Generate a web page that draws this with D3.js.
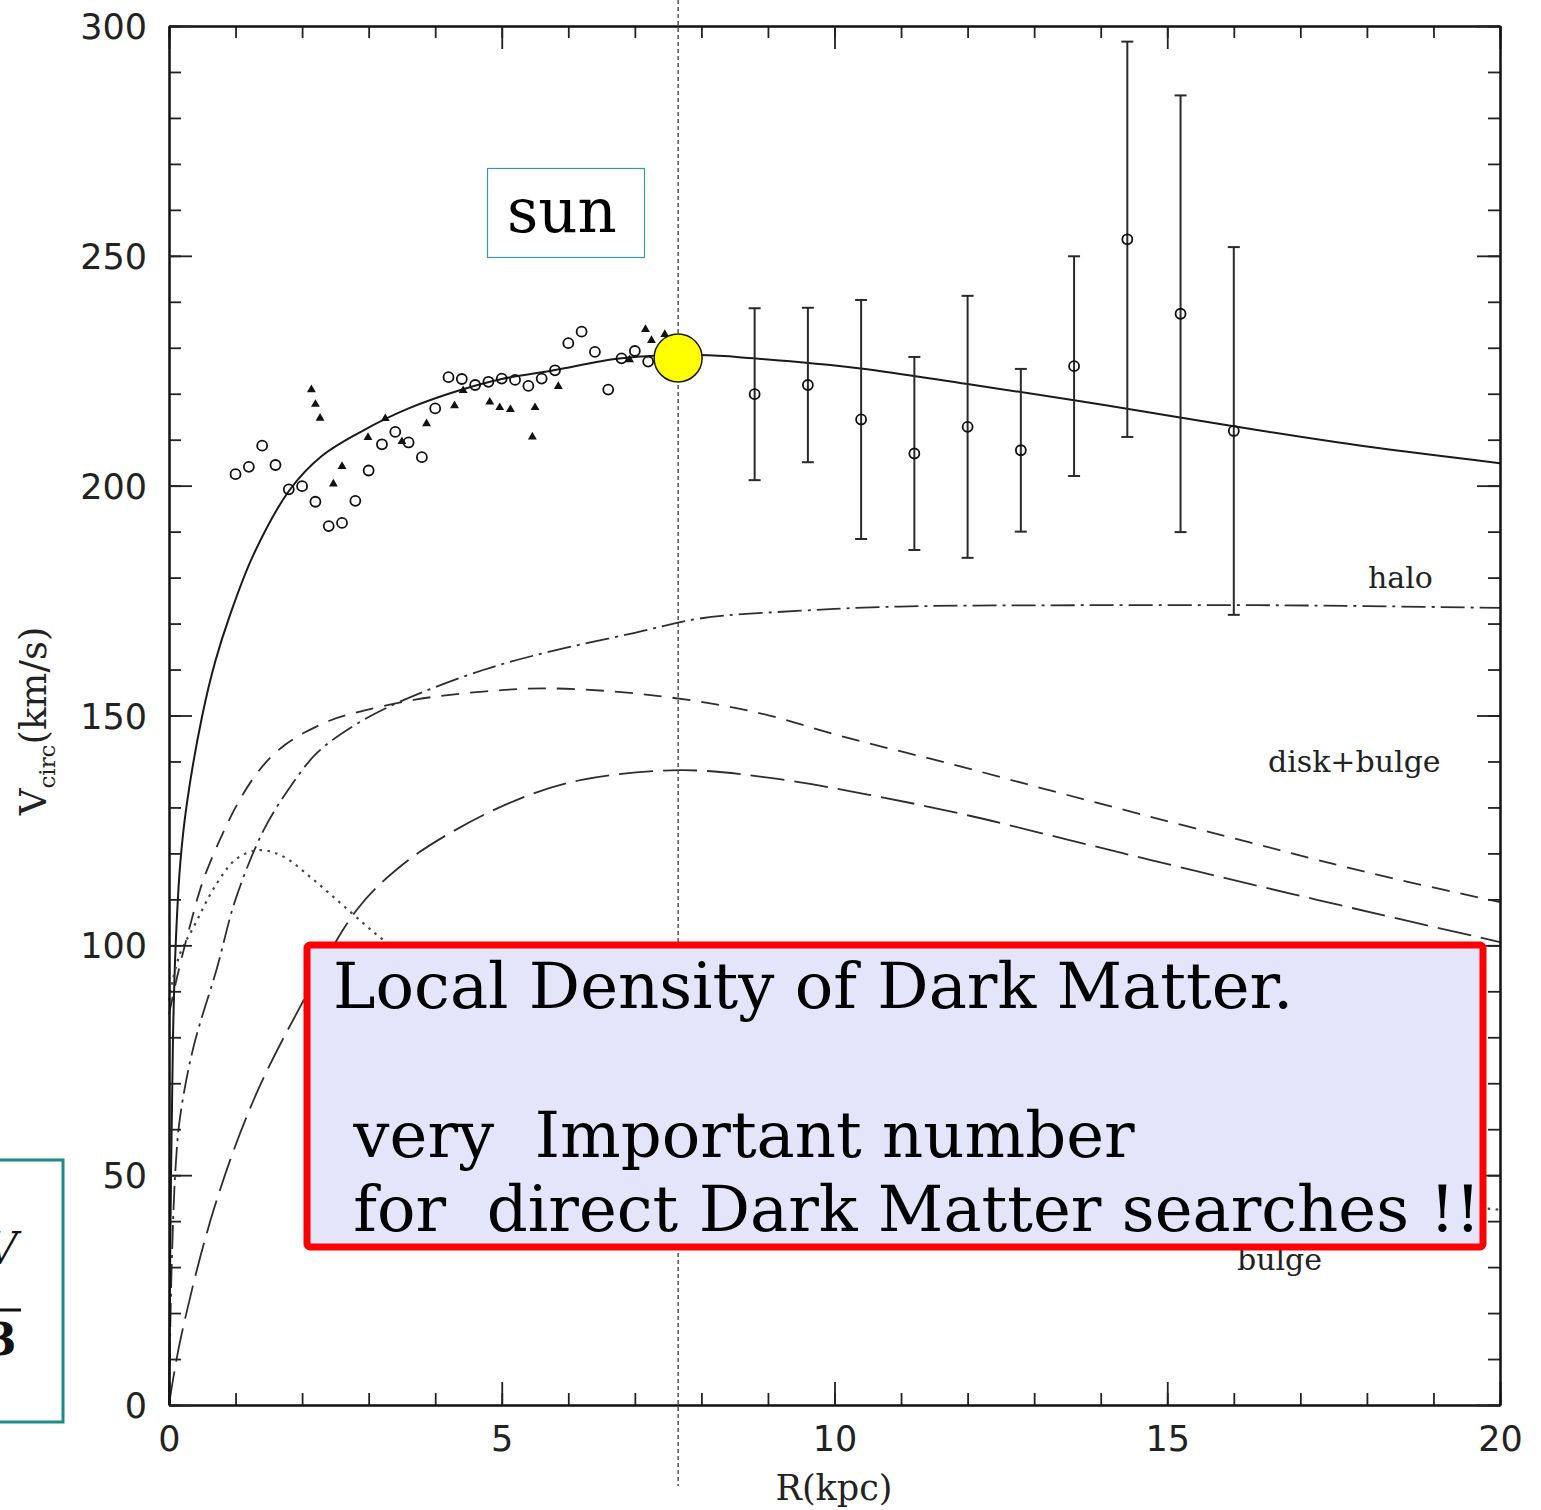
<!DOCTYPE html>
<html>
<head>
<meta charset="utf-8">
<script src="https://cdn.jsdelivr.net/npm/d3@7"></script>
<style>
  html, body { margin: 0; padding: 0; background: #ffffff; }
  svg { display: block; }
  text { white-space: pre; }
</style>
</head>
<body>
<svg id="chart" width="1541" height="1510"></svg>
<script>
// Milky Way rotation curve: model components and observed circular velocities

// Total model rotation curve (solid)
const totalR = [0, 0.03, 0.06, 0.1, 0.17, 0.27, 0.5, 0.7, 0.92, 1.27, 1.81, 2.3, 2.93, 3.6, 4.38, 5.0, 5.78, 6.8, 7.98, 8.78, 10.39, 12.0, 13.6, 15.17, 16.35, 18, 20];
const totalV = [0, 50, 80, 100, 118, 131, 150, 162, 172, 185, 199, 206.5, 212.1, 216.8, 220.8, 223.2, 225.1, 227.7, 228.4, 227.7, 225.5, 222.1, 218.6, 214.9, 212.1, 208.5, 204.9];

// Dark halo (dash-dot)
const haloR = [0, 0.04, 0.1, 0.17, 0.37, 0.72, 1.0, 1.42, 1.8, 2.22, 2.8, 3.47, 4.72, 5.72, 7.0, 7.98, 9.5, 10.98, 13.9, 16.35, 18, 20];
const haloV = [0, 30, 52, 63, 78, 95, 110, 125, 134, 141.8, 148, 153, 159.9, 163.9, 168, 171.1, 172.8, 173.7, 174, 174, 173.8, 173.4];

// Disk + bulge (short dash)
const diskBulgeR = [0, 0.12, 0.32, 0.51, 0.75, 1.0, 1.25, 1.5, 1.75, 2.0, 2.4, 2.72, 3.72, 4.72, 5.72, 7.2, 8.73, 10.23, 11.74, 13.24, 14.74, 16.24, 17.25, 18.5, 20];
const diskBulgeV = [85, 93, 104.5, 114, 122.5, 130, 136, 140.5, 143.7, 146, 148.8, 150.3, 153.5, 155.2, 155.9, 154.5, 151, 145, 139.5, 133.7, 128, 122.4, 118.6, 114.2, 109.4];

// Disk (long dash)
const diskR = [0, 0.17, 0.67, 1.27, 1.97, 2.82, 3.47, 4.22, 5.22, 6.2, 7.68, 9.0, 10.5, 12.0, 13.5, 14.74, 16, 17.25, 18.5, 20];
const diskV = [0, 14.1, 42.4, 66.3, 86.6, 107.7, 117.1, 124.4, 131.6, 136, 138.1, 136.5, 132.8, 128.3, 123, 118.6, 114.2, 109.9, 105.7, 100.7];

// Bulge (dotted)
const bulgeR = [0, 0.05, 0.17, 0.37, 0.72, 1.02, 1.37, 1.72, 2.12, 2.52, 2.92, 3.22, 4, 5, 6, 8, 10, 12, 14, 16, 18, 20];
const bulgeV = [88, 92, 98.3, 104, 113.5, 118.9, 120.7, 119.3, 114.9, 109.9, 104.8, 101.2, 94, 86, 79, 69, 62, 56.5, 52, 48.5, 45, 42.5];

// Inner-galaxy measurements: open circles
const circleR = [1.0, 1.2, 1.4, 1.6, 1.8, 2.0, 2.2, 2.4, 2.6, 2.8, 3.0, 3.2, 3.4, 3.6, 3.8, 4.0, 4.2, 4.4, 4.6, 4.8, 5.0, 5.2, 5.4, 5.6, 5.8, 6.0, 6.2, 6.4, 6.6, 6.8, 7.0, 7.2];
const circleV = [202.5, 204.1, 208.7, 204.5, 199.2, 199.9, 196.5, 191.2, 191.9, 196.7, 203.3, 209.0, 211.7, 209.4, 206.2, 216.8, 223.6, 223.2, 221.9, 222.6, 223.3, 223.0, 221.7, 223.3, 225.1, 231.0, 233.5, 229.1, 220.9, 227.7, 229.3, 227.0];

// Inner-galaxy measurements: filled triangles
const triR = [2.14, 2.20, 2.27, 2.47, 2.60, 2.99, 3.25, 3.50, 3.87, 4.29, 4.42, 4.82, 4.97, 5.13, 5.50, 5.46, 5.85, 6.92, 7.16, 7.25, 7.45];
const triV = [220.9, 217.7, 214.7, 200.4, 204.2, 210.5, 214.6, 209.6, 213.5, 217.4, 220.7, 218.2, 217.0, 216.6, 217.0, 210.6, 221.6, 227.4, 234.0, 231.6, 232.9];

// Outer-galaxy measurements with error bars
const outerR = [8.8, 9.6, 10.4, 11.2, 12.0, 12.8, 13.6, 14.4, 15.2, 16.0];
const outerV = [219.9, 221.9, 214.4, 207.0, 212.8, 207.7, 226.0, 253.6, 237.4, 211.9];
const outerErr = [18.7, 16.8, 26.0, 21.0, 28.5, 17.7, 23.9, 43.0, 47.5, 40.0];

// Sun position
const sunR = 7.65;
const sunV = 227.8;

// Axis ticks
const xMajorTicks = [0, 5, 10, 15, 20];
const xMinorTicks = [0, 1, 2, 3, 4, 5, 6, 7, 8, 9, 10, 11, 12, 13, 14, 15, 16, 17, 18, 19, 20];
const yMajorTicks = [0, 50, 100, 150, 200, 250, 300];
const yMinorTicks = [0, 10, 20, 30, 40, 50, 60, 70, 80, 90, 100, 110, 120, 130, 140, 150, 160, 170, 180, 190, 200, 210, 220, 230, 240, 250, 260, 270, 280, 290, 300];

// Annotation text
const noteLines = ["Local Density of Dark Matter.", "", " very  Important number", " for  direct Dark Matter searches !!"];

const svg = d3.select("#chart");
svg.append("rect").attr("width", 1541).attr("height", 1510).attr("fill", "#ffffff");

const plot = { left: 169, right: 1500, top: 26, bottom: 1405 };
const x = d3.scaleLinear().domain([0, 20]).range([plot.left, plot.right]);
const y = d3.scaleLinear().domain([0, 300]).range([plot.bottom, plot.top]);

const serif = "'DejaVu Serif', serif";
const sans = "'DejaVu Sans', sans-serif";

// Position of the Sun: dashed vertical marker (spans beyond the frame)
svg.append("line")
  .attr("x1", x(sunR)).attr("x2", x(sunR))
  .attr("y1", 0).attr("y2", 1486)
  .attr("stroke", "#000").attr("stroke-width", 1)
  .attr("stroke-dasharray", "4,3");

// Model curves
const curves = [
  { r: totalR, v: totalV, dash: null, width: 2, color: "#1a1a1a" },
  { r: haloR, v: haloV, dash: "24,6,3,6", width: 1.8, color: "#2e2e2e" },
  { r: diskBulgeR, v: diskBulgeV, dash: "18,11", width: 1.8, color: "#2e2e2e" },
  { r: diskR, v: diskV, dash: "34,10", width: 1.8, color: "#2e2e2e" },
  { r: bulgeR, v: bulgeV, dash: "2.5,5.5", width: 2.2, color: "#444" }
];
const lineGen = d3.line().x(d => x(d[0])).y(d => y(d[1])).curve(d3.curveCatmullRom.alpha(0.5));
curves.forEach(c => {
  svg.append("path")
    .datum(c.r.map((r, i) => [r, c.v[i]]))
    .attr("d", lineGen)
    .attr("fill", "none")
    .attr("stroke", c.color)
    .attr("stroke-width", c.width)
    .attr("stroke-dasharray", c.dash);
});

// Component labels
svg.append("text").attr("x", 1368).attr("y", 588)
  .attr("font-family", serif).attr("font-size", 30).attr("fill", "#222")
  .text("halo");
svg.append("text").attr("x", 1268).attr("y", 772)
  .attr("font-family", serif).attr("font-size", 30).attr("fill", "#222")
  .text("disk+bulge");
svg.append("text").attr("x", 1237).attr("y", 1270)
  .attr("font-family", serif).attr("font-size", 30).attr("fill", "#222")
  .text("bulge");

// Open-circle measurements
svg.append("g").selectAll("circle")
  .data(circleR.map((r, i) => [r, circleV[i]]))
  .join("circle")
  .attr("cx", d => x(d[0])).attr("cy", d => y(d[1]))
  .attr("r", 5)
  .attr("fill", "none").attr("stroke", "#111").attr("stroke-width", 1.8);

// Filled-triangle measurements
const tri = d3.symbol().type(d3.symbolTriangle).size(34);
svg.append("g").selectAll("path")
  .data(triR.map((r, i) => [r, triV[i]]))
  .join("path")
  .attr("d", tri)
  .attr("transform", d => `translate(${x(d[0])},${y(d[1])})`)
  .attr("fill", "#111");

// Outer measurements with error bars
const eb = svg.append("g").attr("stroke", "#2a2a2a").attr("stroke-width", 2).attr("fill", "none");
outerR.forEach((r, i) => {
  const cx = x(r);
  const top = y(outerV[i] + outerErr[i]);
  const bot = y(outerV[i] - outerErr[i]);
  eb.append("line").attr("x1", cx).attr("x2", cx).attr("y1", top).attr("y2", bot);
  eb.append("line").attr("x1", cx - 6).attr("x2", cx + 6).attr("y1", top).attr("y2", top);
  eb.append("line").attr("x1", cx - 6).attr("x2", cx + 6).attr("y1", bot).attr("y2", bot);
  eb.append("circle").attr("cx", cx).attr("cy", y(outerV[i])).attr("r", 5)
    .attr("stroke", "#111").attr("stroke-width", 1.8).attr("fill", "none");
});

// Axes: minor ticks on all four sides, major ticks with labels
function styleAxis(g) {
  g.select(".domain").attr("stroke", "#111").attr("stroke-width", 2);
  g.selectAll(".tick line").attr("stroke", "#222").attr("stroke-width", 1.8);
}
const minorLen = 12, majorLen = 23;

svg.append("g").attr("transform", `translate(0,${plot.bottom})`)
  .call(d3.axisBottom(x).tickValues(xMinorTicks).tickSize(-minorLen).tickFormat("").tickSizeOuter(0))
  .call(styleAxis);
svg.append("g").attr("transform", `translate(0,${plot.top})`)
  .call(d3.axisTop(x).tickValues(xMinorTicks).tickSize(-minorLen).tickFormat("").tickSizeOuter(0))
  .call(styleAxis);
svg.append("g").attr("transform", `translate(${plot.left},0)`)
  .call(d3.axisLeft(y).tickValues(yMinorTicks).tickSize(-minorLen).tickFormat("").tickSizeOuter(0))
  .call(styleAxis);
svg.append("g").attr("transform", `translate(${plot.right},0)`)
  .call(d3.axisRight(y).tickValues(yMinorTicks).tickSize(-minorLen).tickFormat("").tickSizeOuter(0))
  .call(styleAxis);

// Major ticks with labels
const xb = svg.append("g").attr("transform", `translate(0,${plot.bottom})`)
  .call(d3.axisBottom(x).tickValues(xMajorTicks).tickSize(-majorLen).tickFormat(d3.format("d")).tickSizeOuter(0))
  .call(styleAxis);
xb.selectAll(".tick text").attr("y", 46).attr("dy", 0)
  .attr("font-family", sans).attr("font-size", 35).attr("fill", "#222");
svg.append("g").attr("transform", `translate(0,${plot.top})`)
  .call(d3.axisTop(x).tickValues(xMajorTicks).tickSize(-majorLen).tickFormat("").tickSizeOuter(0))
  .call(styleAxis);
const yl = svg.append("g").attr("transform", `translate(${plot.left},0)`)
  .call(d3.axisLeft(y).tickValues(yMajorTicks).tickSize(-majorLen).tickPadding(22).tickFormat(d3.format("d")).tickSizeOuter(0))
  .call(styleAxis);
yl.selectAll(".tick text").attr("x", -22).attr("dy", "0.36em")
  .attr("font-family", sans).attr("font-size", 35).attr("fill", "#222");
svg.append("g").attr("transform", `translate(${plot.right},0)`)
  .call(d3.axisRight(y).tickValues(yMajorTicks).tickSize(-majorLen).tickFormat("").tickSizeOuter(0))
  .call(styleAxis);

// Axis titles
svg.append("text").attr("x", 834).attr("y", 1500).attr("text-anchor", "middle")
  .attr("font-family", serif).attr("font-size", 35).attr("fill", "#222")
  .text("R(kpc)");
const yt = svg.append("text")
  .attr("transform", "translate(46,721) rotate(-90)")
  .attr("text-anchor", "middle")
  .attr("font-family", serif).attr("font-size", 37).attr("fill", "#222");
yt.append("tspan").text("V");
yt.append("tspan").attr("font-size", 23).attr("dy", 9).text("circ");
yt.append("tspan").attr("dy", -9).text("(km/s)");

// Sun marker
svg.append("circle").attr("cx", x(sunR)).attr("cy", y(sunV)).attr("r", 24)
  .attr("fill", "#ffff00").attr("stroke", "#1a1a1a").attr("stroke-width", 1.5);

// "sun" caption
svg.append("rect").attr("x", 487.5).attr("y", 168.5).attr("width", 157).attr("height", 89)
  .attr("fill", "#ffffff").attr("stroke", "#3d9a9a").attr("stroke-width", 1.2);
svg.append("text").attr("x", 507).attr("y", 232)
  .attr("font-family", serif).attr("font-size", 61).attr("fill", "#000")
  .text("sun");

// Formula box at the left edge
svg.append("rect").attr("x", -20).attr("y", 1160).attr("width", 83).attr("height", 262)
  .attr("fill", "#ffffff").attr("stroke", "#1f8a8a").attr("stroke-width", 3);
svg.append("text").attr("x", -14).attr("y", 1264)
  .attr("font-family", serif).attr("font-style", "italic").attr("font-size", 44).attr("fill", "#111")
  .text("V");
svg.append("line").attr("x1", -30).attr("x2", 21).attr("y1", 1310).attr("y2", 1310)
  .attr("stroke", "#111").attr("stroke-width", 3);
svg.append("text").attr("x", -14).attr("y", 1355)
  .attr("font-family", serif).attr("font-weight", "bold").attr("font-size", 44).attr("fill", "#111")
  .text("3");

// Annotation box
svg.append("rect").attr("x", 307).attr("y", 945).attr("width", 1176).attr("height", 302)
  .attr("rx", 3)
  .attr("fill", "#e4e4fa").attr("stroke", "#ff0000").attr("stroke-width", 7);
const note = svg.append("text").attr("font-family", serif).attr("font-size", 64).attr("fill", "#000");
const baselines = [1008, 1083, 1157, 1231];
noteLines.forEach((t, i) => {
  if (t.length) note.append("tspan").attr("x", 333).attr("y", baselines[i]).text(t);
});
</script>
</body>
</html>
